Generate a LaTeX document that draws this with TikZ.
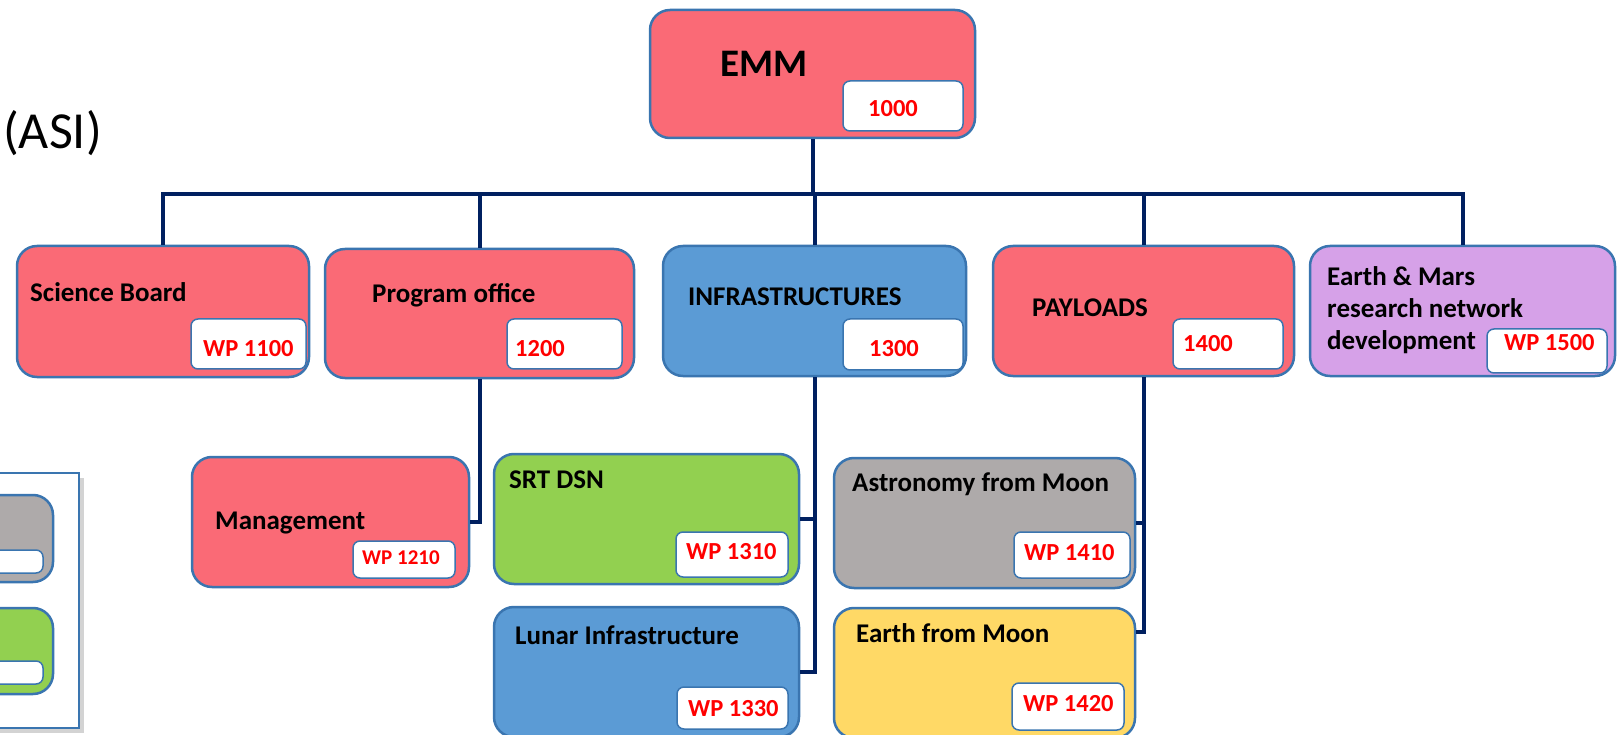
\documentclass[tikz,border=0pt]{standalone}
\usepackage{fontspec}
\setmainfont{Carlito}
\usetikzlibrary{shadows}

\definecolor{wbsred}{RGB}{250,106,118}
\definecolor{wbsblue}{RGB}{91,155,213}
\definecolor{wbsgreen}{RGB}{146,208,80}
\definecolor{wbsgray}{RGB}{174,170,170}
\definecolor{wbsyellow}{RGB}{255,217,102}
\definecolor{wbspurple}{RGB}{214,161,232}
\definecolor{wbsedge}{RGB}{58,117,176}
\definecolor{wbsline}{RGB}{0,32,96}

\begin{document}
\begin{tikzpicture}[x=1pt,y=-1pt,
		box/.style={draw=wbsedge,line width=2.5pt,rounded corners=20pt,inner sep=0pt},
		wp/.style={draw=wbsedge,line width=1.5pt,fill=white,rounded corners=7pt,inner sep=0pt},
		link/.style={wbsline,line width=4pt},
		txt/.style={anchor=base west,inner sep=0pt,font=\fontsize{27}{32}\selectfont\bfseries},
		num/.style={anchor=base west,inner sep=0pt,text=red,font=\fontsize{24.5}{28}\selectfont\bfseries}]
			\useasboundingbox (0,0) rectangle (1623,735);
			% legend, cut by the left edge
			\draw[wbsedge,line width=2.5pt,fill=white,drop shadow={shadow xshift=5pt,shadow yshift=-5pt,opacity=.35}] (-20,473) rectangle (79,728);
			\draw[box,fill=wbsgray] (-40,495) rectangle (53,582);
			\draw[wp] (-40,550) rectangle (43,573);
			\draw[box,fill=wbsgreen] (-40,608) rectangle (53,694);
			\draw[wp] (-40,661) rectangle (43,684);
			\node[anchor=base west,inner sep=0pt,font=\fontsize{52}{60}\selectfont] (asi) at (3,149) {(ASI)};
			% work packages
			\foreach \n/\x/\y/\w/\h/\c in {emm/812.5/74/325/128/wbsred, sb/163/311.5/292/131/wbsred,
				po/479.5/313.5/309/129/wbsred, inf/814.5/311/303/130/wbsblue, pay/1143.5/311/301/130/wbsred,
				eam/1462.5/311/305/130/wbspurple, mgmt/330.5/522/277/130/wbsred, srt/646.5/519/305/130/wbsgreen,
				lun/646.5/672/305/130/wbsblue, ast/984.5/523/301/130/wbsgray, efm/984.5/673/301/130/wbsyellow} {
				\node[box,fill=\c,minimum width=\w pt,minimum height=\h pt] (\n) at (\x,\y) {};
			}
			\foreach \n/\x/\y/\w/\h in {w1000/903/106/120/50, w1100/248.5/344/115/50, w1200/564.5/344/115/50,
				w1300/903/344.5/120/51, w1400/1228/344/110/50, w1500/1547/351/120/44, w1210/404/559.5/102/37,
				w1310/732/554.5/112/45, w1330/732.5/708/111/42, w1410/1072/555/116/46, w1420/1068/706.5/112/47} {
				\node[wp,minimum width=\w pt,minimum height=\h pt] (\n) at (\x,\y) {};
			}
			% titles
			\node[txt,font=\fontsize{39}{44}\selectfont\bfseries] (emm-t) at (720,77) {EMM};
			\node[txt] (sb-t) at (30,302) {Science Board};
			\node[txt] (po-t) at (372,303) {Program office};
			\node[txt] (inf-t) at (688,306) {INFRASTRUCTURES};
			\node[txt] (pay-t) at (1032,317) {PAYLOADS};
			\node[txt,anchor=north west,align=left] (eam-t) at (1327,266) {Earth \& Mars\\research network\\development};
			\node[txt] (mgmt-t) at (215,529) {Management};
			\node[txt] (srt-t) at (509,488) {SRT DSN};
			\node[txt] (lun-t) at (515,644) {Lunar Infrastructure};
			\node[txt] (ast-t) at (852,491) {Astronomy from Moon};
			\node[txt] (efm-t) at (856,642) {Earth from Moon};
			% codes
			\foreach \n/\x/\y/\t in {1000/868/117/1000, 1100/203/357/WP 1100, 1200/515/356/1200,
				1300/869/357/1300, 1400/1183/352/1400, 1500/1504/351/WP 1500, 1310/686/559/WP 1310,
				1330/688/716/WP 1330, 1410/1024/560/WP 1410, 1420/1023/711/WP 1420} {
				\node[num] (t\n) at (\x,\y) {\t};
			}
			\node[num,font=\fontsize{21}{24}\selectfont\bfseries] (t1210) at (362,564) {WP 1210};
			% tree
			\draw[link] (emm.south) -- ++(0,55) coordinate (bus);
			\draw[link] (sb.north) |- (bus) -| (eam.north);
			\foreach \n in {po,inf,pay} {
				\draw[link] (\n.north) -- (\n.north |- bus);
			}
			\draw[link] (po.south) |- (mgmt.east);
			\draw[link] (inf.south) |- (lun.east);
			\draw[link] (inf.south |- srt.east) -- (srt.east);
			\draw[link] (pay.south) |- ([yshift=-25pt]efm.north east);
			\draw[link] (pay.south |- ast.east) -- (ast.east);
		\end{tikzpicture}
\end{document}
